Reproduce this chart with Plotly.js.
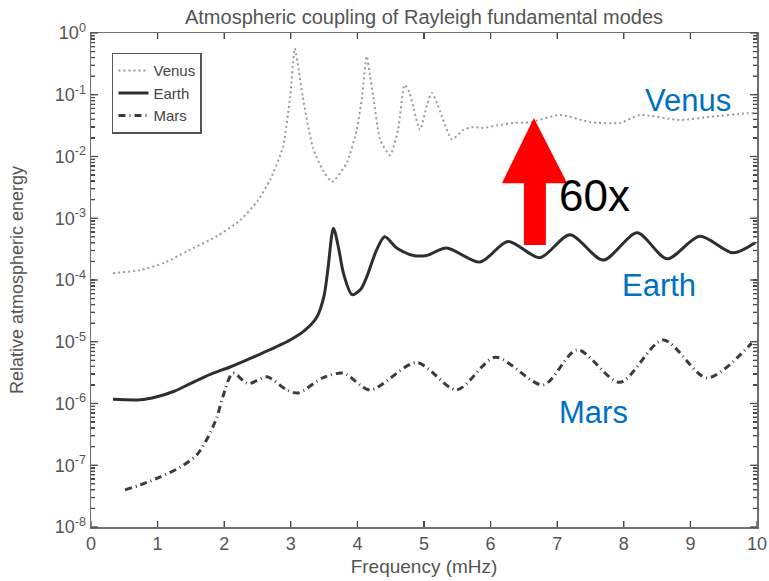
<!DOCTYPE html>
<html>
<head>
<meta charset="utf-8">
<script src="https://cdn.plot.ly/plotly-3.0.1.min.js"></script>
<style>html,body{margin:0;padding:0;background:#fff;}#chart{width:769px;height:581px;}</style>
</head>
<body>
<div id="chart"></div>
<script>
// Frequency (mHz) and relative atmospheric energy
const venusFreq = [0.33,0.74,1.1,1.49,1.9,2.24,2.5,2.69,2.88,2.99,3.06,3.12,3.18,3.33,3.48,3.62,3.84,3.99,4.07,4.14,4.19,4.24,4.34,4.49,4.61,4.71,4.78,4.84,4.94,5.05,5.12,5.2,5.27,5.42,5.59,5.74,5.89,6.1,6.35,6.6,7.04,7.5,7.94,8.24,8.84,9.3,9.85,10.0];
const venusEnergy = [1.29e-4,1.45e-4,1.9e-4,3.1e-4,5.2e-4,9.3e-4,1.9e-3,4.2e-3,1.4e-2,9.3e-2,0.56,0.25,9.3e-2,1.4e-2,6.0e-3,3.9e-3,7.9e-3,2.7e-2,9.3e-2,0.42,0.2,9.3e-2,1.9e-2,1.05e-2,2.7e-2,0.145,0.11,6.3e-2,2.7e-2,7.1e-2,0.107,7.1e-2,4.4e-2,1.9e-2,2.7e-2,3.0e-2,2.9e-2,3.2e-2,3.5e-2,3.6e-2,4.7e-2,3.6e-2,3.5e-2,4.7e-2,3.9e-2,4.4e-2,5.0e-2,5.0e-2];

const earthFreq = [0.33,0.74,0.99,1.25,1.49,1.8,2.09,2.58,2.99,3.2,3.39,3.5,3.56,3.64,3.72,3.79,3.92,4.05,4.14,4.29,4.41,4.59,4.84,5.04,5.34,5.84,6.26,6.74,7.19,7.69,8.2,8.65,9.14,9.64,9.97];
const earthEnergy = [1.17e-6,1.15e-6,1.29e-6,1.58e-6,2.1e-6,3.0e-6,3.9e-6,6.6e-6,1.07e-5,1.5e-5,2.5e-5,5.6e-5,1.6e-4,6.9e-4,3.2e-4,1.29e-4,5.8e-5,7.1e-5,1.12e-4,3.1e-4,5.0e-4,3.3e-4,2.5e-4,2.5e-4,3.3e-4,1.95e-4,4.2e-4,2.3e-4,5.4e-4,2.1e-4,5.8e-4,2.2e-4,5.1e-4,2.75e-4,4.0e-4];

const marsFreq = [0.51,0.74,1.04,1.34,1.59,1.76,1.89,1.98,2.13,2.36,2.64,2.94,3.11,3.48,3.79,4.19,4.89,5.49,6.07,6.79,7.3,7.94,8.59,9.25,9.92];
const marsEnergy = [4.0e-8,4.8e-8,6.5e-8,9.3e-8,1.48e-7,2.9e-7,6.0e-7,1.29e-6,3.1e-6,2.1e-6,2.7e-6,1.66e-6,1.48e-6,2.6e-6,3.1e-6,1.66e-6,4.6e-6,1.66e-6,5.6e-6,2.0e-6,7.4e-6,2.2e-6,1.07e-5,2.6e-6,9.5e-6];

const xTickVals = [0,1,2,3,4,5,6,7,8,9,10];
const yTickVals = [1e-8,1e-7,1e-6,1e-5,1e-4,1e-3,1e-2,1e-1,1];
const yTickText = ['10<sup>-8</sup>','10<sup>-7</sup>','10<sup>-6</sup>','10<sup>-5</sup>','10<sup>-4</sup>','10<sup>-3</sup>','10<sup>-2</sup>','10<sup>-1</sup>','10<sup>0</sup>'];

// unlabeled minor tick positions (2..9 in every decade)
const minorVals = [];
for (let d = -8; d < 0; d++) { for (let m = 2; m <= 9; m++) minorVals.push(m * Math.pow(10, d)); }
const yAllTickVals = yTickVals.concat(minorVals);
const yAllTickText = yTickText.concat(minorVals.map(() => ''));

const FONT = 'Liberation Sans, Arial, sans-serif';
const AX = '#4a4a4a';
const Y_RANGE = [-8, 0];
const PLOT_W = 666, PLOT_H = 494;

// inward tick marks on all four sides, placed from the tick values
const tickShapes = [];
function addYTick(v, lenPx) {
  const yp = (Math.log10(v) - Y_RANGE[0]) / (Y_RANGE[1] - Y_RANGE[0]);
  const lx = lenPx / PLOT_W;
  tickShapes.push({type: 'line', xref: 'paper', yref: 'paper', x0: 0, x1: lx, y0: yp, y1: yp, line: {color: AX, width: 1.3}, layer: 'above'});
  tickShapes.push({type: 'line', xref: 'paper', yref: 'paper', x0: 1 - lx, x1: 1, y0: yp, y1: yp, line: {color: AX, width: 1.3}, layer: 'above'});
}
yTickVals.forEach(v => addYTick(v, 7));
minorVals.forEach(v => addYTick(v, 4));
xTickVals.forEach(v => {
  const ly = 6 / PLOT_H;
  tickShapes.push({type: 'line', xref: 'x', yref: 'paper', x0: v, x1: v, y0: 0, y1: ly, line: {color: AX, width: 1.3}, layer: 'above'});
  tickShapes.push({type: 'line', xref: 'x', yref: 'paper', x0: v, x1: v, y0: 1 - ly, y1: 1, line: {color: AX, width: 1.3}, layer: 'above'});
});

const traces = [
  {x: venusFreq, y: venusEnergy, name: 'Venus', mode: 'lines', line: {color: '#9a9a9a', width: 2, dash: '2px,3px', shape: 'spline', smoothing: 0.6}},
  {x: earthFreq, y: earthEnergy, name: 'Earth', mode: 'lines', line: {color: '#2e2e2e', width: 3, shape: 'spline', smoothing: 0.8}},
  {x: marsFreq, y: marsEnergy, name: 'Mars', mode: 'lines', line: {color: '#3c3c3c', width: 3, dash: '7px,4px,1px,4px', shape: 'spline', smoothing: 0.8}}
];

const layout = {
  width: 769, height: 581,
  margin: {l: 91, r: 12, t: 33, b: 54},
  paper_bgcolor: '#fff', plot_bgcolor: '#fff',
  font: {family: FONT, color: '#555', size: 17},
  title: {text: 'Atmospheric coupling of Rayleigh fundamental modes', font: {size: 20, color: '#555', family: FONT}, x: 0.5, xref: 'paper', y: 0.971, yanchor: 'middle'},
  showlegend: true,
  legend: {x: 0.0315, y: 0.96, xanchor: 'left', yanchor: 'top', bgcolor: '#fff', bordercolor: '#555', borderwidth: 1.5, font: {size: 15, color: '#444'}},
  xaxis: {
    range: [0, 10], tickmode: 'array', tickvals: xTickVals, ticks: 'inside', ticklen: 6, tickwidth: 1.3, tickcolor: AX,
    showline: true, linecolor: '#6e6e6e', linewidth: 1.5, mirror: 'allticks', showgrid: false, zeroline: false,
    tickfont: {size: 18, color: '#555'},
    title: {text: 'Frequency (mHz)', font: {size: 19, color: '#555'}, standoff: 6}
  },
  yaxis: {
    type: 'log', range: Y_RANGE, tickmode: 'array', tickvals: yAllTickVals, ticktext: yAllTickText,
    ticks: 'inside', ticklen: 4, tickwidth: 1.3, tickcolor: AX,
    showline: true, linecolor: '#6e6e6e', linewidth: 1.5, mirror: 'allticks', showgrid: false, zeroline: false,
    tickfont: {size: 18, color: '#555'},
    title: {text: 'Relative atmospheric energy', font: {size: 18, color: '#555'}, standoff: 26}
  },
  shapes: tickShapes.concat([
    {type: 'path', xref: 'paper', yref: 'paper', fillcolor: '#ff0000', line: {width: 0},
     path: 'M 0.650 0.571 L 0.683 0.571 L 0.683 0.696 L 0.715 0.696 L 0.665 0.828 L 0.617 0.696 L 0.650 0.696 Z'}
  ]),
  annotations: [
    {text: 'Venus', xref: 'paper', yref: 'paper', x: 0.896, y: 0.864, xanchor: 'center', yanchor: 'middle', showarrow: false, font: {family: FONT, size: 31, color: '#0070c0'}},
    {text: 'Earth', xref: 'paper', yref: 'paper', x: 0.853, y: 0.488, xanchor: 'center', yanchor: 'middle', showarrow: false, font: {family: FONT, size: 31, color: '#0070c0'}},
    {text: 'Mars', xref: 'paper', yref: 'paper', x: 0.755, y: 0.231, xanchor: 'center', yanchor: 'middle', showarrow: false, font: {family: FONT, size: 31, color: '#0070c0'}},
    {text: '60x', xref: 'paper', yref: 'paper', x: 0.700, y: 0.672, xanchor: 'left', yanchor: 'middle', showarrow: false, font: {family: FONT, size: 44, color: '#000'}}
  ]
};

Plotly.newPlot('chart', traces, layout, {displayModeBar: false, staticPlot: true});
</script>
</body>
</html>
